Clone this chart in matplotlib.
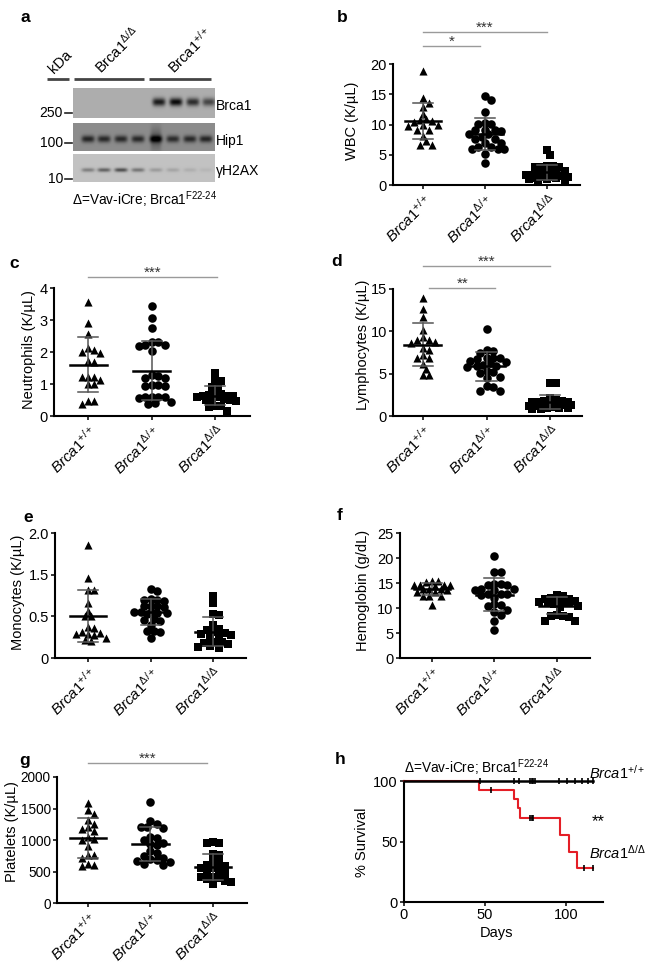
import matplotlib
matplotlib.use("Agg")
import matplotlib.pyplot as plt
import numpy as np

W, H = 656, 963
DPI = 100

plt.rcParams["font.family"] = ["Liberation Sans", "DejaVu Sans"]
plt.rcParams["mathtext.fontset"] = "custom"
plt.rcParams["mathtext.rm"] = "Liberation Sans"
plt.rcParams["mathtext.it"] = "Liberation Sans:italic"
plt.rcParams["mathtext.bf"] = "Liberation Sans:bold"
plt.rcParams["axes.unicode_minus"] = False

# ---------------------------------------------------------------------------
# data
# ---------------------------------------------------------------------------
genotypes = [r"$\mathit{Brca1}^{+/+}$", r"$\mathit{Brca1}^{\Delta/+}$",
             r"$\mathit{Brca1}^{\Delta/\Delta}$"]

wbc_wt = [18.8, 14.3, 13.6, 12.9, 11.8, 10.9, 10.8, 10.6, 10.4, 9.9, 9.8, 9.9,
          9.1, 9.1, 8.1, 7.2, 6.6, 6.6]
wbc_het = [14.7, 14.0, 12.0, 10.1, 10.2, 10.1, 9.1, 9.1, 9.1, 9.0, 8.4, 8.4,
           8.0, 7.6, 7.6, 7.0, 7.0, 6.2, 6.0, 6.0, 6.0, 6.2, 5.1, 3.6]
wbc_ko = [5.8, 4.9, 3.1, 3.0, 3.0, 3.0, 3.1, 2.3, 2.2, 2.0, 1.9, 1.8, 1.7, 1.6,
          1.5, 1.4, 1.4, 1.3, 1.2, 1.1, 1.0, 1.0, 0.9, 0.8]

neut_wt = [3.55, 2.92, 2.56, 2.06, 1.96, 2.01, 2.14, 1.73, 1.70, 1.23, 1.23,
           1.12, 1.23, 1.0, 1.0, 0.48, 0.37, 0.48]
neut_het = [3.45, 3.07, 2.76, 2.32, 2.30, 2.22, 2.20, 2.22, 2.02, 1.28, 1.2,
            1.18, 1.25, 0.97, 0.95, 0.97, 0.95, 0.6, 0.58, 0.6, 0.6, 0.55,
            0.42, 0.36, 0.45]
neut_ko = [1.33, 1.1, 1.08, 0.92, 0.9, 0.72, 0.7, 0.62, 0.63, 0.6, 0.6, 0.62,
           0.65, 0.52, 0.5, 0.48, 0.5, 0.52, 0.3, 0.28, 0.3, 0.16]

lymph_wt = [13.9, 12.6, 11.7, 10.2, 9.0, 9.0, 9.3, 8.7, 8.6, 8.0, 7.8, 7.2,
            6.9, 6.8, 6.2, 5.5, 4.8, 4.8]
lymph_het = [10.3, 7.8, 7.7, 7.4, 6.9, 6.8, 6.9, 6.7, 6.4, 6.3, 6.5, 5.9, 5.8,
             6.0, 5.9, 5.2, 5.3, 5.1, 4.6, 4.5, 3.5, 3.4, 3.0, 2.9]
lymph_ko = [3.9, 3.9, 2.1, 1.9, 1.8, 1.8, 1.7, 1.7, 1.6, 1.5, 1.5, 1.4, 1.3,
            1.3, 1.2, 1.2, 1.1, 1.0, 1.0, 0.9, 0.8, 0.8]

mono_wt = [1.36, 0.96, 0.82, 0.82, 0.66, 0.57, 0.5, 0.5, 0.37, 0.36, 0.30,
           0.29, 0.31, 0.28, 0.29, 0.24, 0.22, 0.20]
mono_het = [0.83, 0.81, 0.7, 0.71, 0.69, 0.70, 0.63, 0.62, 0.62, 0.61, 0.55,
            0.54, 0.55, 0.53, 0.54, 0.55, 0.46, 0.47, 0.45, 0.40, 0.32, 0.33,
            0.31, 0.24]
mono_ko = [0.74, 0.66, 0.53, 0.52, 0.40, 0.35, 0.34, 0.31, 0.30, 0.28, 0.27,
           0.29, 0.24, 0.19, 0.18, 0.19, 0.17, 0.13, 0.12, 0.14]
mono_ticks = [0, 0.5, 1.0, 1.5]
mono_ticklabels = ["0", "0.5", "1.5", "2.0"]   # as printed in the figure

hgb_wt = [15.5, 15.3, 15.4, 14.7, 14.6, 14.6, 14.5, 14.6, 13.8, 13.8, 13.9,
          13.7, 13.2, 13.3, 12.5, 12.4, 12.4, 10.7]
hgb_het = [20.4, 17.3, 17.2, 14.9, 14.8, 14.7, 14.6, 13.8, 13.7, 13.6, 13.9,
           12.9, 12.8, 12.6, 12.8, 12.1, 10.8, 10.7, 10.5, 9.6, 9.2, 8.7, 7.5,
           5.6]
hgb_ko = [12.6, 12.4, 12.0, 11.9, 11.8, 11.4, 11.3, 11.2, 11.4, 11.3, 11.2,
          10.8, 10.5, 10.2, 8.6, 8.4, 8.4, 8.3, 7.5, 7.5]

plt_wt = [1580, 1470, 1420, 1320, 1250, 1200, 1180, 1150, 1050, 1020, 1000,
          900, 760, 760, 720, 620, 600, 580]
plt_het = [1600, 1300, 1250, 1200, 1190, 1200, 1050, 1000, 1030, 950, 930,
           920, 800, 820, 740, 700, 720, 680, 660, 650, 600, 620]
plt_ko = [970, 960, 950, 770, 760, 640, 650, 600, 580, 560, 550, 500, 490,
          480, 420, 410, 400, 380, 350, 330, 300]

# survival (Kaplan-Meier steps)
ko_days = [0, 46.5, 68, 70.5, 72, 96.7, 101.9, 107, 117]
ko_pct = [100, 92.6, 84.9, 77.4, 69.1, 55.4, 41.6, 27.9, 27.9]
ko_censor = [54, 78, 79, 80, 111.5, 117]
wt_days = [0, 117]
wt_pct = [100, 100]
wt_censor = [47, 68, 71, 78, 79, 80, 81, 96, 101, 105.5, 110, 114, 117]

# western blot band intensities (8 lanes)
lane_x = [88, 104, 121, 138, 156, 173, 190, 206]
brca1_band = [0, 0, 0, 0, 0.85, 0.95, 0.75, 0.6]
hip1_band = [0.75, 0.72, 0.72, 0.72, 0.85, 0.7, 0.72, 0.75]
hip1_smear = [0, 0, 0, 0, 0.55, 0, 0, 0]
h2ax_band = [0.35, 0.5, 0.6, 0.4, 0.2, 0.15, 0.1, 0.06]

# ---------------------------------------------------------------------------
fig = plt.figure(figsize=(W / DPI, H / DPI), dpi=DPI)
fig.patch.set_facecolor("white")


def px_axes(left, top, right, bottom):
    return fig.add_axes([left / W, 1 - bottom / H, (right - left) / W,
                         (bottom - top) / H])


def ftext(x, y, s, **kw):
    fig.text(x / W, 1 - y / H, s, **kw)


# overlay canvas in pixel coordinates (panel letters, blot)
ax0 = fig.add_axes([0, 0, 1, 1])
ax0.axis("off")

rows = [
    # values, smear, top, bottom, background, band y, band half height, shift
    (brca1_band, None, 88, 118, 0.68, 102, 4.0, 3),
    (hip1_band, hip1_smear, 123, 151, 0.55, 139, 3.5, 0),
    (h2ax_band, None, 154, 182, 0.76, 170, 2.0, 0),
]
for vals, smear, top, bot, bg, by, bh, shift in rows:
    xs = np.linspace(73, 215, 568)
    ys = np.linspace(top, bot, int((bot - top) * 4))
    X, Y = np.meshgrid(xs, ys)
    img = np.full_like(X, bg)
    for i, xc in enumerate(lane_x):
        xc = xc + shift
        img -= vals[i] * bg * np.exp(-((X - xc) / 6.5) ** 4 - ((Y - by) / bh) ** 2)
        if smear is not None and smear[i]:
            img -= smear[i] * bg * 0.6 * np.exp(-((X - xc) / 5.5) ** 4
                                               - ((Y - by) / 12) ** 2)
    ax0.imshow(np.clip(img, 0, 1), cmap="gray", vmin=0, vmax=1,
               extent=(73, 215, bot, top), aspect="auto", interpolation="bilinear")

for lab, y in [("250", 113), ("100", 143), ("10", 179)]:
    ax0.plot([65, 72], [y, y], color="#222222", lw=1.2)
    ax0.text(63, y, lab, ha="right", va="center", fontsize=10)
for lab, y in [("Brca1", 106), ("Hip1", 141), ("γH2AX", 171)]:
    ax0.text(216, y, lab, ha="left", va="center", fontsize=10)
for x0, x1 in [(47, 69), (74, 144), (149, 211)]:
    ax0.plot([x0, x1], [79, 79], color="#444444", lw=2, solid_capstyle="butt")
for lab, x in [("kDa", 54), (r"Brca1$^{\Delta/\Delta}$", 101),
               (r"Brca1$^{+/+}$", 174)]:
    ax0.text(x, 74, lab, rotation=45, ha="left", va="baseline",
             rotation_mode="anchor", fontsize=10.5)
ax0.text(72, 200, r"Δ=Vav-iCre; Brca1$^{\mathrm{F22‐24}}$", ha="left",
         va="center", fontsize=9.8)

for lab, x, y in [("a", 25, 18), ("b", 342, 18), ("c", 14, 263),
                  ("d", 337, 262), ("e", 28, 517), ("f", 340, 515),
                  ("g", 25, 760), ("h", 340, 760)]:
    ax0.text(x, y, lab, ha="center", va="center", fontsize=12.5,
             fontweight="bold")
ax0.set_xlim(0, W)
ax0.set_ylim(H, 0)


def style_axes(ax, labelsize=10.5):
    for s in ("top", "right"):
        ax.spines[s].set_visible(False)
    for s in ("left", "bottom"):
        ax.spines[s].set_linewidth(1.5)
    ax.tick_params(direction="out", length=3, width=1.1, labelsize=labelsize,
                   pad=1.5)
    ax.set_facecolor("none")


def swarm(ax, xc, vals, diam, cap=0.34):
    """Greedy beeswarm: horizontal offsets so markers overlap as little as
    possible, limited to +/- cap category units."""
    disp = ax.transData.transform(np.column_stack([np.full(len(vals), xc), vals]))
    y = disp[:, 1]
    ux = ax.transData.transform([(1, 0)])[0, 0] - ax.transData.transform([(0, 0)])[0, 0]
    cmax = cap * ux
    cands = [0.0]
    k = 1
    while k * diam * 0.5 <= cmax:
        cands += [k * diam * 0.5, -k * diam * 0.5]
        k += 1
    placed = []
    off = np.zeros(len(vals))
    for i in np.argsort(-y):
        best, best_d = 0.0, -1
        for c in cands:
            d = min([np.hypot(c - px, y[i] - py) for px, py in placed] or [1e9])
            if d >= diam:
                best = c
                break
            if d > best_d:
                best, best_d = c, d
        off[i] = best
        placed.append((best, y[i]))
    return xc + off / ux


MARKERS = [("^", 34, 6.0), ("o", 38, 6.5), ("s", 30, 6.0)]
SD_COLOR = "#555555"

panels = [
    dict(box=(393, 64, 580, 185), xlim=(-0.48, 2.53),
         groups=(wbc_wt, wbc_het, wbc_ko), ylim=(0, 20),
         yticks=[0, 5, 10, 15, 20], yticklabels=None,
         ylabel="WBC (K/µL)", ylab_xy=(352, 121),
         sig=[(0, 2, 1.264, "***"), (0, 0.92, 1.149, "*")]),
    dict(box=(54, 288, 250, 416), xlim=(-0.54, 2.55),
         groups=(neut_wt, neut_het, neut_ko), ylim=(0, 4),
         yticks=[0, 1, 2, 3, 4], yticklabels=None,
         ylabel="Neutrophils (K/µL)", ylab_xy=(29, 350),
         sig=[(0, 2.03, 1.086, "***")]),
    dict(box=(393, 289, 582, 416), xlim=(-0.47, 2.5),
         groups=(lymph_wt, lymph_het, lymph_ko), ylim=(0, 15),
         yticks=[0, 5, 10, 15], yticklabels=None,
         ylabel="Lymphocytes (K/µL)", ylab_xy=(363, 345),
         sig=[(0, 2, 1.181, "***"), (0.1, 1.14, 1.008, "**")]),
    dict(box=(55, 533, 246, 658), xlim=(-0.53, 2.53),
         groups=(mono_wt, mono_het, mono_ko), ylim=(0, 1.5),
         yticks=mono_ticks, yticklabels=mono_ticklabels,
         ylabel="Monocytes (K/µL)", ylab_xy=(18, 592), sig=[]),
    dict(box=(400, 533, 590, 658), xlim=(-0.51, 2.53),
         groups=(hgb_wt, hgb_het, hgb_ko), ylim=(0, 25),
         yticks=[0, 5, 10, 15, 20, 25], yticklabels=None,
         ylabel="Hemoglobin (g/dL)", ylab_xy=(363, 590), sig=[]),
    dict(box=(57, 777, 247, 903), xlim=(-0.5, 2.55),
         groups=(plt_wt, plt_het, plt_ko), ylim=(0, 2000),
         yticks=[0, 500, 1000, 1500, 2000], yticklabels=None,
         ylabel="Platelets (K/µL)", ylab_xy=(12, 832), ticksize=9.8,
         sig=[(0, 1.9, 1.111, "***")]),
]

for p in panels:
    ax = px_axes(*p["box"])
    style_axes(ax, p.get("ticksize", 10.5))
    ax.set_xlim(*p["xlim"])
    ax.set_ylim(*p["ylim"])
    ax.set_yticks(p["yticks"])
    if p["yticklabels"] is not None:
        ax.set_yticklabels(p["yticklabels"])
    ax.set_xticks([0, 1, 2])
    ax.set_xticklabels(genotypes, rotation=45, ha="right", va="top",
                       rotation_mode="anchor", fontsize=11)
    for i, vals in enumerate(p["groups"]):
        mk, s, diam = MARKERS[i]
        xs = swarm(ax, i, vals, diam)
        ax.scatter(xs, vals, marker=mk, s=s, color="black", lw=0,
                   zorder=3, clip_on=False)
        m, sd = np.mean(vals), np.std(vals, ddof=1)
        ax.plot([i - 0.29, i + 0.29], [m, m], color="black", lw=1.8, zorder=5)
        ax.plot([i, i], [m - sd, m + sd], color=SD_COLOR, lw=1.1, zorder=4)
        for yy in (m - sd, m + sd):
            ax.plot([i - 0.16, i + 0.16], [yy, yy], color=SD_COLOR, lw=1.1,
                    zorder=4)
    tr = ax.get_xaxis_transform()
    for x0, x1, yf, star in p["sig"]:
        ax.plot([x0, x1], [yf, yf], transform=tr, color="#9a9a9a", lw=1,
                clip_on=False)
        ax.text((x0 + x1) / 2, yf, star, transform=tr, ha="center",
                va="baseline", fontsize=11, color="#333333")
    ftext(*p["ylab_xy"], p["ylabel"], rotation=90, ha="center", va="center",
          fontsize=10.5)

# survival panel
axh = px_axes(404, 781, 603, 902)
style_axes(axh)
axh.set_xlim(0, 123)
axh.set_ylim(0, 100)
axh.set_xticks([0, 50, 100])
axh.set_yticks([0, 50, 100])
axh.step(ko_days, ko_pct, where="post", color="#e41e26", lw=1.5, zorder=3,
         clip_on=False)
axh.step(wt_days, wt_pct, where="post", color="black", lw=1.8, zorder=4,
         clip_on=False)
ko_censor_pct = [ko_pct[np.searchsorted(ko_days, d, side="right") - 1]
                 for d in ko_censor]
axh.plot(ko_censor, ko_censor_pct, ls="none", marker="|", ms=5, mew=1.2,
         color="black", zorder=5, clip_on=False)
axh.plot(wt_censor, [100] * len(wt_censor), ls="none", marker="|", ms=5,
         mew=1.2, color="black", zorder=5, clip_on=False)
ftext(362, 842, "% Survival", rotation=90, ha="center", va="center",
      fontsize=10.5)
ftext(497, 933, "Days", ha="center", va="center", fontsize=10.5)
ftext(404, 768, r"Δ=Vav-iCre; Brca1$^{\mathrm{F22‐24}}$", ha="left",
      va="center", fontsize=9.8)
ftext(589, 773, r"$\mathit{Brca1}^{+/+}$", ha="left", va="center", fontsize=10.5)
ftext(598, 822, "**", ha="center", va="center", fontsize=12)
ftext(589, 853, r"$\mathit{Brca1}^{\Delta/\Delta}$", ha="left", va="center",
      fontsize=10.5)

fig.savefig("out.png", dpi=DPI, facecolor="white")
